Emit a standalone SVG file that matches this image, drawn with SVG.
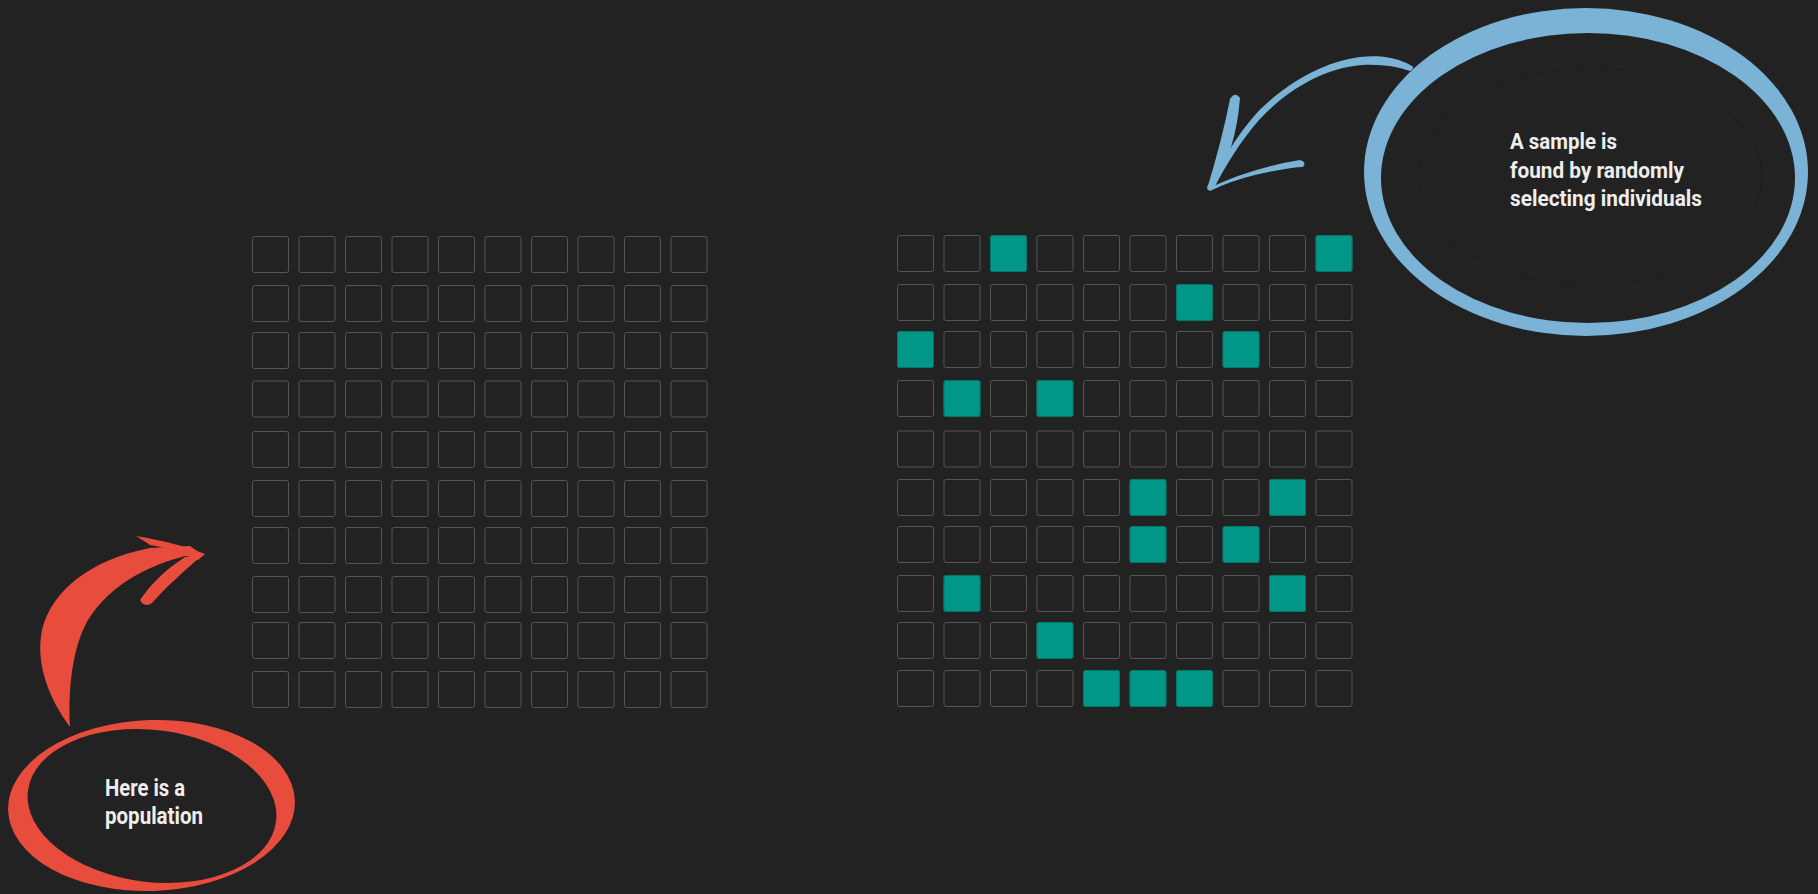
<svg xmlns="http://www.w3.org/2000/svg" xmlns:xlink="http://www.w3.org/1999/xlink" width="1818" height="894" viewBox="0 0 1818 894">
<style>
.cell{fill:none;stroke:#555555;stroke-width:1}
.sel{fill:#009688;stroke:#00796b;stroke-width:1}
.lbl{font-family:Roboto,"Liberation Sans",sans-serif;font-weight:700;fill:#eeeeee}
.red{fill:#e74c3c}
.blue{fill:#7ab3d6}
</style>
<defs>
<g id="row">
<rect class="cell" x="0" y="0" width="36" height="36" rx="2"/>
<rect class="cell" x="46.5" y="0" width="36" height="36" rx="2"/>
<rect class="cell" x="93" y="0" width="36" height="36" rx="2"/>
<rect class="cell" x="139.5" y="0" width="36" height="36" rx="2"/>
<rect class="cell" x="186" y="0" width="36" height="36" rx="2"/>
<rect class="cell" x="232.5" y="0" width="36" height="36" rx="2"/>
<rect class="cell" x="279" y="0" width="36" height="36" rx="2"/>
<rect class="cell" x="325.5" y="0" width="36" height="36" rx="2"/>
<rect class="cell" x="372" y="0" width="36" height="36" rx="2"/>
<rect class="cell" x="418.5" y="0" width="36" height="36" rx="2"/>
</g>
</defs>
<rect x="0" y="0" width="1818" height="894" fill="#222222"/>

<g id="population-grid">
<use xlink:href="#row" x="252.5" y="236.5"/>
<use xlink:href="#row" x="252.5" y="285.5"/>
<use xlink:href="#row" x="252.5" y="332.5"/>
<use xlink:href="#row" x="252.5" y="381"/>
<use xlink:href="#row" x="252.5" y="431.5"/>
<use xlink:href="#row" x="252.5" y="480.5"/>
<use xlink:href="#row" x="252.5" y="527.5"/>
<use xlink:href="#row" x="252.5" y="576.5"/>
<use xlink:href="#row" x="252.5" y="622.5"/>
<use xlink:href="#row" x="252.5" y="671.5"/>
</g>

<g id="sample-grid">
<use xlink:href="#row" x="897.5" y="235.5"/>
<use xlink:href="#row" x="897.5" y="284.5"/>
<use xlink:href="#row" x="897.5" y="331.5"/>
<use xlink:href="#row" x="897.5" y="380.5"/>
<use xlink:href="#row" x="897.5" y="431"/>
<use xlink:href="#row" x="897.5" y="479.5"/>
<use xlink:href="#row" x="897.5" y="526.5"/>
<use xlink:href="#row" x="897.5" y="575.5"/>
<use xlink:href="#row" x="897.5" y="622.5"/>
<use xlink:href="#row" x="897.5" y="670.5"/>
<rect class="sel" x="990.5" y="235.5" width="36" height="36" rx="2"/>
<rect class="sel" x="1316" y="235.5" width="36" height="36" rx="2"/>
<rect class="sel" x="1176.5" y="284.5" width="36" height="36" rx="2"/>
<rect class="sel" x="897.5" y="331.5" width="36" height="36" rx="2"/>
<rect class="sel" x="1223" y="331.5" width="36" height="36" rx="2"/>
<rect class="sel" x="944" y="380.5" width="36" height="36" rx="2"/>
<rect class="sel" x="1037" y="380.5" width="36" height="36" rx="2"/>
<rect class="sel" x="1130" y="479.5" width="36" height="36" rx="2"/>
<rect class="sel" x="1269.5" y="479.5" width="36" height="36" rx="2"/>
<rect class="sel" x="1130" y="526.5" width="36" height="36" rx="2"/>
<rect class="sel" x="1223" y="526.5" width="36" height="36" rx="2"/>
<rect class="sel" x="944" y="575.5" width="36" height="36" rx="2"/>
<rect class="sel" x="1269.5" y="575.5" width="36" height="36" rx="2"/>
<rect class="sel" x="1037" y="622.5" width="36" height="36" rx="2"/>
<rect class="sel" x="1083.5" y="670.5" width="36" height="36" rx="2"/>
<rect class="sel" x="1130" y="670.5" width="36" height="36" rx="2"/>
<rect class="sel" x="1176.5" y="670.5" width="36" height="36" rx="2"/>
</g>

<g id="population-callout">
<ellipse class="red" cx="151.5" cy="805.5" rx="143.5" ry="85.5" transform="rotate(-2 151.5 805.5)"/>
<ellipse cx="152" cy="806" rx="125" ry="76" fill="#222222" transform="rotate(7 152 806)"/>
<path class="red" d="M9,806 L29,818 L22,821 Z"/>
<text class="lbl" font-size="23"><tspan x="105" y="795.5" textLength="80" lengthAdjust="spacingAndGlyphs">Here is a</tspan><tspan x="105" y="823.5" textLength="98" lengthAdjust="spacingAndGlyphs">population</tspan></text>
</g>

<g id="sample-callout">
<ellipse class="blue" cx="1586" cy="172" rx="222" ry="164"/>
<ellipse cx="1588" cy="178" rx="207" ry="145" fill="#222222"/>
<ellipse cx="1590" cy="176.5" rx="172" ry="108.5" fill="none" stroke="#1e1e1e" stroke-width="1"/>
<text class="lbl" font-size="21.5"><tspan x="1510" y="149" textLength="107" lengthAdjust="spacingAndGlyphs">A sample is</tspan><tspan x="1510" y="177.5" textLength="174" lengthAdjust="spacingAndGlyphs">found by randomly</tspan><tspan x="1510" y="206" textLength="192" lengthAdjust="spacingAndGlyphs">selecting individuals</tspan></text>
</g>

<g id="connectors">
<g id="red-arrow" class="red">
<path d="M70,727 C50,700 35,665 42,630 C52,590 90,560 150,548 L190,546 L200,553 C150,562 110,585 88,620 C72,648 68,690 70,727 Z"/>
<path d="M136,536 C160,540 185,546 205,554 L198,560 C180,553 165,547 150,545 C145,541 140,539 136,536 Z"/>
<path d="M204,554 C185,570 165,588 152,603 Q144,608 140,600 C150,585 165,570 185,557 Z"/>
</g>
<g id="blue-arrow" class="blue">
<path d="M1412,66 C1396,56 1376,55 1360,57 C1320,62 1280,88 1255,115 C1235,138 1220,165 1207,187 L1214,188 C1226,165 1240,142 1259,120 C1285,92 1322,68 1362,65 C1380,64 1396,66 1410,71 Q1415,69 1412,66 Z"/>
<path d="M1230,99 Q1235,91 1240,98 Q1236,150 1213,188 L1207,189 Q1222,140 1230,99 Z"/>
<path d="M1207,189 Q1250,168 1300,160 Q1307,162 1303,167 Q1290,167 1255,175 Q1230,181 1210,191 Z"/>
</g>
</g>
</svg>
